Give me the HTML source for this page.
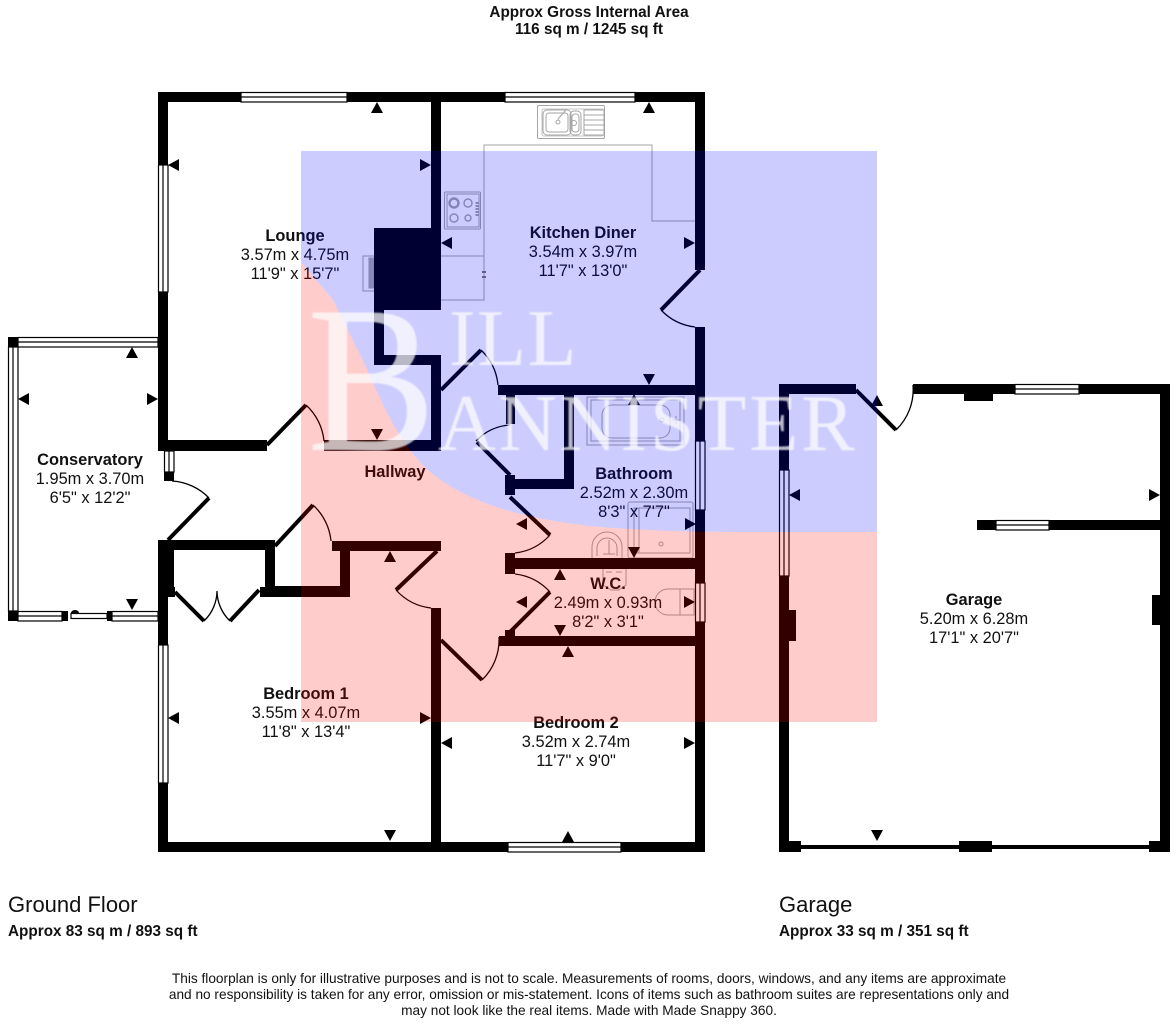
<!DOCTYPE html>
<html><head><meta charset="utf-8"><style>
html,body{margin:0;padding:0;background:#fff}
svg{display:block;filter:blur(.35px)}
text{font-family:"Liberation Sans",Arial,sans-serif;fill:#111}
.m{text-anchor:middle;font-size:16.4px}
.b{font-weight:bold}
.w{font-family:"Liberation Serif",serif;fill:#fff}
.h{font-size:15.3px;font-weight:bold}
.d{font-size:13.67px}
</style></head><body>
<svg width="1176" height="1024" viewBox="0 0 1176 1024" xmlns="http://www.w3.org/2000/svg">
<rect width="1176" height="1024" fill="#fff"/>
<g id="plan">
<!-- fixtures -->
<g fill="none" stroke="#a6a6a6" stroke-width="1">
<path d="M484,300V145H652V221H695M441,256H484V300H441"/>
<rect x="537.5" y="105.5" width="67" height="33" rx="1.5"/><rect x="542" y="109" width="62" height="27" rx="2" stroke="#c4c4c4"/>
<rect x="543" y="110" width="28" height="25" rx="4"/><rect x="546" y="113" width="22" height="19" rx="3"/><rect x="570" y="111" width="11" height="24" rx="4"/><rect x="572" y="114" width="7" height="18" rx="3"/><path d="M584,110h20v25h-20zM584,115h20M584,120h20M584,125h20M584,130h20M558,119l8,-9"/><circle cx="558" cy="122" r="2"/><circle cx="574" cy="123" r="2.5"/>
<rect x="444.5" y="192" width="36" height="37" rx="1"/><rect x="447" y="194" width="32" height="33"/><circle cx="454" cy="203" r="4.5" stroke-width="2.4"/><circle cx="468" cy="203" r="4" stroke-width="1.4"/><circle cx="454" cy="218" r="4" stroke-width="1.4"/><circle cx="468" cy="218" r="3" stroke-width="1.4"/><path d="M477,202v15" stroke-dasharray="2 1" stroke-width="3"/>
<path d="M484,271v2M484,276v2" stroke="#777" stroke-width="4"/>
<path d="M374,256h-11v35h11"/><rect x="369" y="258" width="5" height="30" fill="#aaa"/>
<rect x="587" y="397" width="97" height="48"/><rect x="591" y="400" width="89" height="41"/><rect x="602" y="405" width="68" height="33" rx="10"/><circle cx="662" cy="420" r="2"/><path d="M672,420h8M676,416v8"/>
<rect x="628" y="502" width="65" height="56" rx="2"/><rect x="634" y="508" width="56" height="45"/><path d="M639,508v45"/><circle cx="661" cy="544" r="2"/>
<path d="M592,558V547a15,15 0 0 1 30,0V558"/><path d="M597,556V548a10,10 0 0 1 20,0V556"/><path d="M603,554h12M609,540v14"/>
<path d="M603,569v16l8,5h8l7,-5v-16"/><path d="M606,572h6M616,572h6"/>
<path d="M680,589h-12a13,13 0 0 0 0,26h12zM680,589h14v26h-14"/>
</g>
<!-- walls -->
<path fill="#000" d="
M158,92H241V102H168V165H158Z
M347,92H505V102H441V228H431V102H347Z
M374,228H441V310H374Z
M635,92H705V270H695V102H635Z
M695,327H705V441H695V395H498V385H695Z
M158,292H168V440H267V451H158Z
M374,310H384V355H441V451H324V440H431V365H374Z
M695,510H705V583H695Z
M695,622H705V852H621V842H695Z
M158,540H275V550H174V597H168V645H158Z
M265,550H275V586H340V551H332V541H441V551H350V597H260V587H265Z
M168,587H175V597H168Z
M158,783H168V842H431V608H441V842H508V852H158Z
M499,636H695V646H499Z
M505,553H515V558H695V569H515V574H505Z
M505,630H515V636H505Z
M506,395H515V424H506Z
M505,475H515V479H564V395H574V489H515V495H505Z
M164,472H174V481H164Z
M8,337H18V347H8ZM8,611H18V621H8ZM62,611H68V621H62ZM107,611H112V621H107Z
M779,384H856V394H789V470H779Z
M779,576H789V610H796V641H789V841H801V852H779Z
M913,384H1015V394H993V401H964V394H913Z
M1079,384H1170V852H1149V841H1160V625H1152V595H1160V530H1049V520H1160V394H1079Z
M977,520H996V530H977Z
M959,841H992V852H959Z
M801,845H959V849H801ZM992,845H1149V849H992Z
"/>
<!-- windows -->
<g fill="#fff" stroke="#000" stroke-width="1.2">
<rect x="241" y="92.5" width="106" height="9.5"/><rect x="505" y="92.5" width="130" height="9.5"/>
<rect x="508" y="842.5" width="113" height="9.5"/>
<rect x="158.5" y="165" width="9.5" height="127"/><rect x="158.5" y="645" width="9.5" height="138"/>
<rect x="695.5" y="441" width="9.5" height="69"/><rect x="695.5" y="583" width="9.5" height="39"/>
<rect x="164.5" y="451" width="9.5" height="21"/>
<rect x="18" y="337.5" width="140" height="9.5"/><rect x="8.5" y="347" width="9.5" height="264"/>
<rect x="18" y="611.5" width="44" height="9.5"/><rect x="112" y="611.5" width="46" height="9.5"/><rect x="71" y="613.5" width="36" height="5"/>
<rect x="779.5" y="470" width="9.5" height="106"/>
<rect x="1015" y="384.5" width="64" height="9.5"/><rect x="996" y="520.5" width="53" height="9.5"/>
</g>
<path fill="none" stroke="#000" stroke-width="1.2" d="M241,97H347M505,97H635M508,847H621M163,165V292M163,645V783M700,441V510M700,583V622M169,451V472M18,342H158M13,347V611M18,616H62M112,616H158M784,470V576M1015,389H1079M996,525H1049"/>
<!-- doors -->
<path fill="none" stroke="#000" stroke-width="4" d="M267,445L306,405M700,270L661,310M441,390L481,350M477,442L510,475M510,497L550,535M510,632L550,592M441,640L482,680M437,551L396,590M275,546L313,505M168,540L209,498M175,592L204,621M259,590L230,621M856,390L896,430"/>
<path fill="none" stroke="#000" stroke-width="1.3" d="M306,405A56,56 0 0 1 324,441M661,310A56,56 0 0 0 695,327M481,350A56,56 0 0 1 498,385M476,441A50,50 0 0 1 510,425M550,535A56,56 0 0 1 515,553M550,592A56,56 0 0 0 515,574M482,680A56,56 0 0 0 499,637M396,590A56,56 0 0 0 431,608M313,505A56,56 0 0 1 331,541M209,498A56,56 0 0 0 172,481M204,621A42,42 0 0 0 217,591M230,621A42,42 0 0 1 217,591M896,430A56,56 0 0 0 913,385"/>
<path fill="#000" d="M71,613a4,3 0 0 1 8,0z"/>
<!-- arrowheads -->
<path fill="#000" d="
M371,113L377,102L383,113ZM643,113L649,102L655,113ZM628,405L634,394L640,405ZM126,358L132,347L138,358ZM384,562L390,551L396,562ZM554,580L560,569L566,580ZM562,657L568,646L574,657ZM562,842L568,831L574,842ZM871,406L877,395L883,406Z
M643,374L649,385L655,374ZM371,429L377,440L383,429ZM126,599L132,610L138,599ZM628,547L634,558L640,547ZM554,625L560,636L566,625ZM384,830L390,841L396,830ZM871,830L877,841L883,830Z
M179,159L168,165L179,171ZM29,393L18,399L29,405ZM452,237L441,243L452,249ZM179,712L168,718L179,724ZM452,737L441,743L452,749ZM527,518L516,524L527,530ZM527,596L516,602L527,608ZM800,489L789,495L800,501Z
M420,159L431,165L420,171ZM684,237L695,243L684,249ZM147,393L158,399L147,405ZM420,712L431,718L420,724ZM684,737L695,743L684,749ZM685,518L696,524L685,530ZM684,596L695,602L684,608ZM1149,489L1160,495L1149,501Z"/>
<!-- labels -->
<text class="m h" x="589" y="17">Approx Gross Internal Area</text>
<text class="m h" x="589" y="34">116 sq m / 1245 sq ft</text>
<text class="m b" x="295" y="241">Lounge</text><text class="m" x="295" y="260">3.57m x 4.75m</text><text class="m" x="295" y="279">11'9" x 15'7"</text>
<text class="m b" x="583" y="238">Kitchen Diner</text><text class="m" x="583" y="257">3.54m x 3.97m</text><text class="m" x="583" y="276">11'7" x 13'0"</text>
<text class="m b" x="90" y="465">Conservatory</text><text class="m" x="90" y="484">1.95m x 3.70m</text><text class="m" x="90" y="503">6'5" x 12'2"</text>
<text class="m b" x="395" y="477">Hallway</text>
<text class="m b" x="634" y="479">Bathroom</text><text class="m" x="634" y="498">2.52m x 2.30m</text><text class="m" x="634" y="517">8'3" x 7'7"</text>
<text class="m b" x="608" y="589">W.C.</text><text class="m" x="608" y="608">2.49m x 0.93m</text><text class="m" x="608" y="627">8'2" x 3'1"</text>
<text class="m b" x="306" y="699">Bedroom 1</text><text class="m" x="306" y="718">3.55m x 4.07m</text><text class="m" x="306" y="737">11'8" x 13'4"</text>
<text class="m b" x="576" y="728">Bedroom 2</text><text class="m" x="576" y="747">3.52m x 2.74m</text><text class="m" x="576" y="766">11'7" x 9'0"</text>
<text class="m b" x="974" y="605">Garage</text><text class="m" x="974" y="624">5.20m x 6.28m</text><text class="m" x="974" y="643">17'1" x 20'7"</text>
<text x="8" y="912" style="font-size:22px">Ground Floor</text>
<text class="h" x="8" y="936">Approx 83 sq m / 893 sq ft</text>
<text x="779" y="912" style="font-size:22px">Garage</text>
<text class="h" x="779" y="936">Approx 33 sq m / 351 sq ft</text>
<text class="m d" x="589" y="983">This floorplan is only for illustrative purposes and is not to scale. Measurements of rooms, doors, windows, and any items are approximate</text>
<text class="m d" x="589" y="999">and no responsibility is taken for any error, omission or mis-statement. Icons of items such as bathroom suites are representations only and</text>
<text class="m d" x="589" y="1015">may not look like the real items. Made with Made Snappy 360.</text>
</g>
<!-- colour overlay: translucent blue and red, so black walls tint navy and maroon -->
<path fill="#0000ff" fill-opacity=".2" d="M301,151H877V532H740C700,532 650,531 600,527C530,520 470,505 430,472C400,445 385,410 365,365L333,300L301,262Z"/>
<path fill="#ff0000" fill-opacity=".2" d="M301,262L333,300L365,365C385,410 400,445 430,472C470,505 530,520 600,527C650,531 700,532 740,532L877,532L877,722L301,722Z"/>
<!-- watermark -->
<g opacity="0.72" style="filter:blur(.8px)">
<text class="w" transform="translate(307,450) scale(.92,1)" style="font-size:210px">B</text>
<text class="w" x="449" y="365" style="font-size:80px;letter-spacing:1.5px">ILL</text>
<text class="w" x="438" y="450" style="font-size:80px;letter-spacing:3px">ANNISTER</text>
</g>
</svg>
</body></html>
